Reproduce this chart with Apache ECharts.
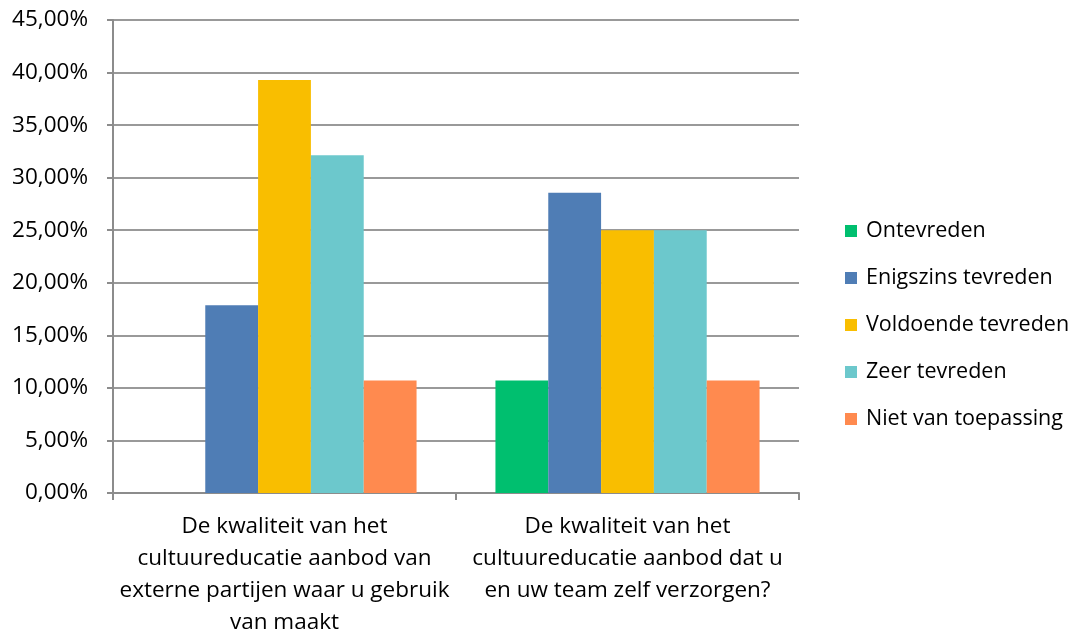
<!DOCTYPE html>
<html>
<head>
<meta charset="utf-8">
<script src="https://cdn.jsdelivr.net/npm/echarts@6/dist/echarts.min.js"></script>
<style>
  html, body { margin: 0; padding: 0; background: #fff; }
  #chart { width: 1085px; height: 639px; }
</style>
</head>
<body>
<div id="chart"></div>
<script>
// Survey question categories (x axis)
var categories = [
  'De kwaliteit van het\ncultuureducatie aanbod van\nexterne partijen waar u gebruik\nvan maakt',
  'De kwaliteit van het\ncultuureducatie aanbod dat u\nen uw team zelf verzorgen?'
];

// Answer options (series) and their colours
var seriesNames = ['Ontevreden', 'Enigszins tevreden', 'Voldoende tevreden', 'Zeer tevreden', 'Niet van toepassing'];
var seriesColors = ['#00BF6F', '#4F7DB5', '#F9BE00', '#6CC8CC', '#FF8A4F'];

// Percentages per answer, one value per category
var ontevreden = [0, 10.71];
var enigszins = [17.86, 28.57];
var voldoende = [39.29, 25.0];
var zeer = [32.14, 25.0];
var nietVanToepassing = [10.71, 10.71];

var seriesValues = [ontevreden, enigszins, voldoende, zeer, nietVanToepassing];

var FONT = 'Open Sans';
var FS = 22.5;

var chart = echarts.init(document.getElementById('chart'), null, { renderer: 'canvas' });

chart.setOption({
  animation: false,
  textStyle: { fontFamily: FONT },
  grid: { left: 113, right: 286, top: 20, bottom: 141, containLabel: false },
  legend: {
    orient: 'vertical',
    left: 840,
    top: 215,
    itemWidth: 12,
    itemHeight: 12,
    itemGap: 25,
    icon: 'rect',
    textStyle: { fontFamily: FONT, fontSize: 21.5, color: '#000', padding: [0, 0, 0, 4] },
    data: seriesNames
  },
  xAxis: {
    type: 'category',
    data: categories,
    axisLine: { lineStyle: { color: '#8C8C8C', width: 2 } },
    axisTick: { show: true, length: 7, lineStyle: { color: '#8C8C8C', width: 2 } },
    axisLabel: {
      color: '#000',
      fontFamily: FONT,
      fontSize: FS,
      lineHeight: 32,
      margin: 18,
      interval: 0,
      align: 'center'
    }
  },
  yAxis: {
    type: 'value',
    min: 0,
    max: 45,
    interval: 5,
    axisLine: { show: true, lineStyle: { color: '#8C8C8C', width: 2 } },
    axisTick: { show: true, length: 6, lineStyle: { color: '#8C8C8C', width: 2 } },
    splitLine: { show: true, lineStyle: { color: '#999999', width: 2 } },
    axisLabel: {
      color: '#000',
      fontFamily: FONT,
      fontSize: FS,
      margin: 25,
      formatter: function (v) { return v.toFixed(2).replace('.', ',') + '%'; }
    }
  },
  series: seriesNames.map(function (name, i) {
    return {
      name: name,
      type: 'bar',
      data: seriesValues[i],
      barGap: '0%',
      barCategoryGap: '23%',
      itemStyle: { color: seriesColors[i] }
    };
  })
});
</script>
</body>
</html>
